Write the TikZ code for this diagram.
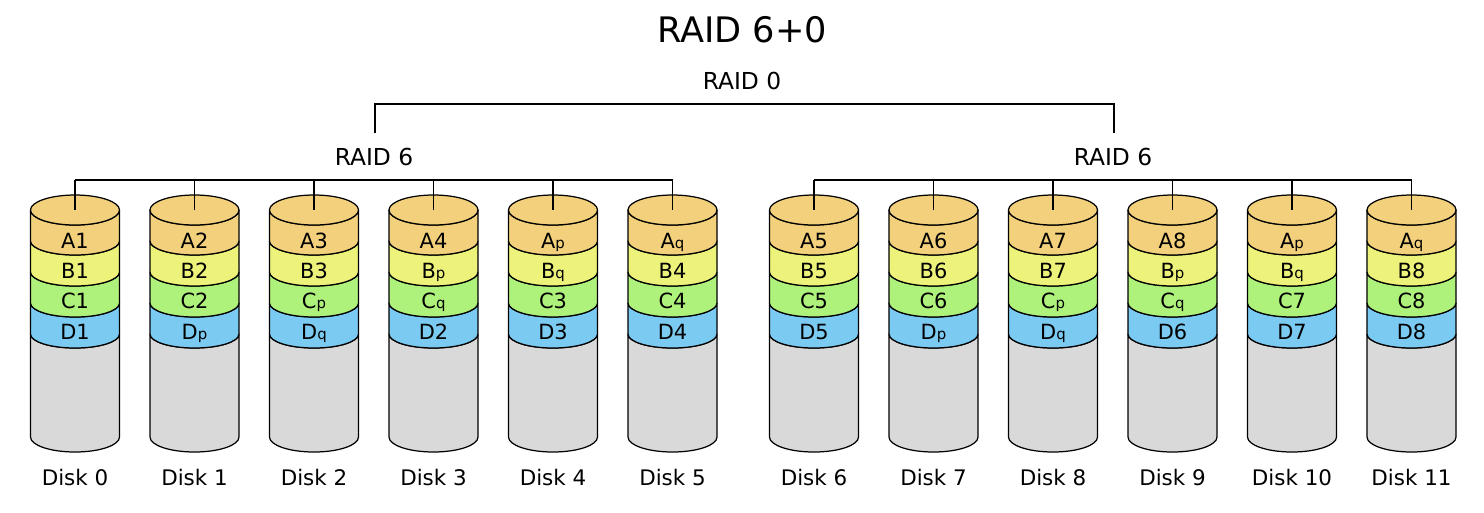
\documentclass[tikz,border=0pt]{standalone}
\usepackage{fontspec}
\setmainfont{DejaVu Sans}
\usepackage{tikz}

\definecolor{stripA}{HTML}{F3D07B}
\definecolor{stripB}{HTML}{EDF27B}
\definecolor{stripC}{HTML}{AFF27B}
\definecolor{stripD}{HTML}{7BCAF2}
\definecolor{diskgray}{HTML}{D9D9D9}

\newcommand{\psub}[1]{{\fontsize{8.5}{10}\selectfont #1}}

\tikzset{
    disk edge/.style={draw=black, line width=0.7pt, line join=round},
    bus line/.style={draw=black, line width=0.7pt},
    band label/.style={anchor=base, inner sep=0pt, font=\fontsize{11.9}{14}\selectfont},
    disk label/.style={anchor=base, inner sep=0pt, font=\fontsize{12.2}{14}\selectfont},
    raid label/.style={anchor=base, inner sep=0pt, font=\fontsize{13.3}{16}\selectfont},
}

\begin{document}
\begin{tikzpicture}[x=0.02cm, y=-0.02cm]
    \useasboundingbox (0,0) rectangle (1484,512);

    \node[anchor=base, inner sep=0pt, font=\fontsize{20}{24}\selectfont] (title) at (742,42) {RAID 6+0};
    \node[raid label] (raid0) at (742,89) {RAID 0};
    \node[raid label] (raid6L) at (374,165) {RAID 6};
    \node[raid label] (raid6R) at (1113,165) {RAID 6};

    % RAID 0 bracket
    \coordinate (brL) at (375,133);
    \coordinate (brR) at (1114,133);
    \coordinate (brTop) at (742,104);
    \draw[line width=1.1pt] (brL) |- (brTop) -| (brR);

    \foreach \n/\cx/\la/\lb/\lc/\ld in {
        0/75/A1/B1/C1/D1,
        1/194.5/A2/B2/C2/D\psub{p},
        2/314/A3/B3/C\psub{p}/D\psub{q},
        3/433.5/A4/B\psub{p}/C\psub{q}/D2,
        4/553/A\psub{p}/B\psub{q}/C3/D3,
        5/672.5/A\psub{q}/B4/C4/D4,
        6/814/A5/B5/C5/D5,
        7/933.5/A6/B6/C6/D\psub{p},
        8/1053/A7/B7/C\psub{p}/D\psub{q},
        9/1172.5/A8/B\psub{p}/C\psub{q}/D6,
        10/1292/A\psub{p}/B\psub{q}/C7/D7,
        11/1411.5/A\psub{q}/B8/C8/D8%
    } {
        \begin{scope}[shift={(\cx,0)}]
            % empty part of the disk
            \filldraw[disk edge, fill=diskgray] (-44.5,334) -- (-44.5,437)
                arc[start angle=180, end angle=0, x radius=44.5, y radius=15]
                -- (44.5,334) arc[start angle=0, end angle=180, x radius=44.5, y radius=14] -- cycle;
            % stripes, bottom first
            \foreach \yt/\rt/\yb/\col in {303/14/334/stripD, 272/14/303/stripC, 241/14/272/stripB, 210/15/241/stripA} {
                \filldraw[disk edge, fill=\col] (-44.5,\yt) -- (-44.5,\yb)
                    arc[start angle=180, end angle=0, x radius=44.5, y radius=14]
                    -- (44.5,\yt) arc[start angle=0, end angle=180, x radius=44.5, y radius=\rt] -- cycle;
            }
            \filldraw[disk edge, fill=stripA] (0,210) ellipse[x radius=44.5, y radius=15];

            \node[band label] (a\n) at (0,248) {\la};
            \node[band label] (b\n) at (0,278) {\lb};
            \node[band label] (c\n) at (0,308.5) {\lc};
            \node[band label] (d\n) at (0,339) {\ld};
            \node[disk label] (disk\n) at (0,485.5) {Disk \n};

            \coordinate (top\n) at (0,210);
            \coordinate (bus\n) at (0,180);
            \draw[bus line] (bus\n) -- (top\n);
        \end{scope}
    }

    \draw[bus line] (bus0) -- (bus5);
    \draw[bus line] (bus6) -- (bus11);
\end{tikzpicture}
\end{document}
